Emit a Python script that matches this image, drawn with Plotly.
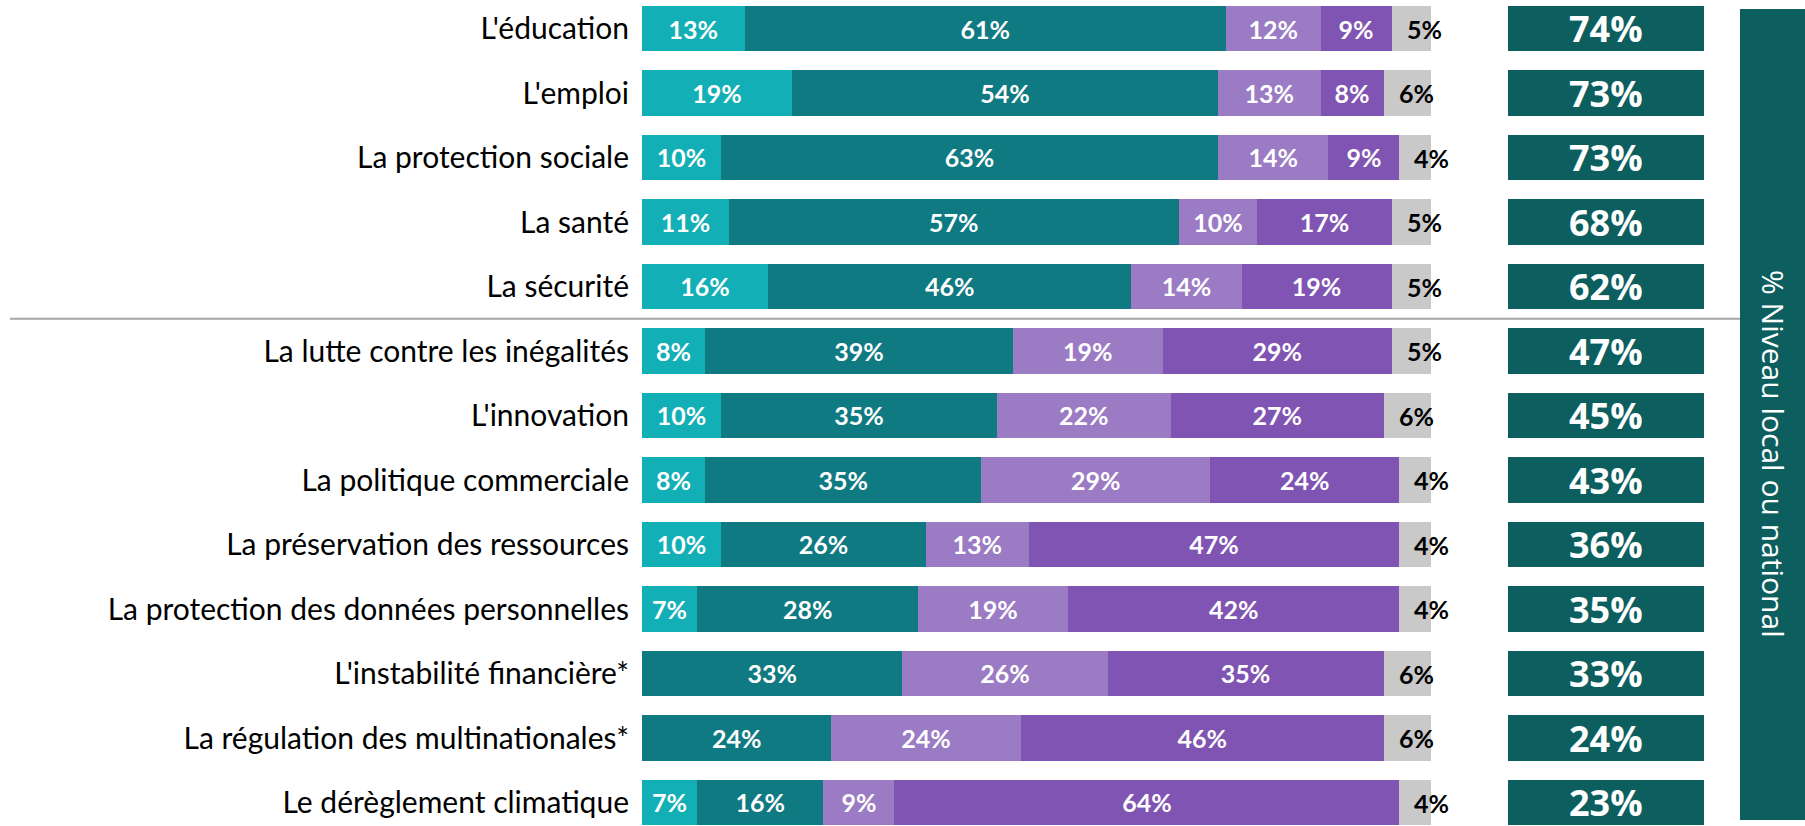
import plotly.graph_objects as go

# themes, top to bottom
themes = ["L'éducation", "L'emploi", "La protection sociale", "La santé", "La sécurité",
          "La lutte contre les inégalités", "L'innovation", "La politique commerciale",
          "La préservation des ressources", "La protection des données personnelles",
          "L'instabilité financière*", "La régulation des multinationales*",
          "Le dérèglement climatique"]

# share of answers per level (%)
local = [13, 19, 10, 11, 16, 8, 10, 8, 10, 7, 0, 0, 7]
national = [61, 54, 63, 57, 46, 39, 35, 35, 26, 28, 33, 24, 16]
europeen = [12, 13, 14, 10, 14, 19, 22, 29, 13, 19, 26, 24, 9]
mondial = [9, 8, 9, 17, 19, 29, 27, 24, 47, 42, 35, 46, 64]
nsp = [5, 6, 4, 5, 5, 5, 6, 4, 4, 4, 6, 6, 4]

# % niveau local ou national
total = [74, 73, 73, 68, 62, 47, 45, 43, 36, 35, 33, 24, 23]

series = [
    ("Local", local, "#13afb6"),
    ("National", national, "#107a82"),
    ("Européen", europeen, "#9a7bc4"),
    ("Mondial", mondial, "#7f54b3"),
    ("NSP", nsp, "#c9c9c9"),
]

W, H = 1805, 826
fig = go.Figure()

for name, vals, col in series:
    txt = ["" if (v == 0 or name == "NSP") else f"{v}%" for v in vals]
    fig.add_trace(go.Bar(
        y=themes, x=vals, name=name, orientation="h",
        marker=dict(color=col, line=dict(width=0)),
        text=txt, textposition="inside", insidetextanchor="middle", textangle=0,
        textfont=dict(family="Lato", size=25, color="white", weight="bold"),
        hoverinfo="skip",
    ))

# right column boxes
fig.add_trace(go.Bar(
    y=themes, x=[1] * len(themes), orientation="h", xaxis="x2", yaxis="y",
    marker=dict(color="#0d5e5e", line=dict(width=0)), hoverinfo="skip",
))
for th, v in zip(themes, total):
    fig.add_annotation(x=0.5, y=th, xref="x2", yref="y", text=f"{v}%", showarrow=False,
                       font=dict(family="Open Sans", size=36, color="white", weight="bold"))

# black labels for the grey (NSP) part, starting a bit inside the grey block
left = [a + b + c + d for a, b, c, d in zip(local, national, europeen, mondial)]
for th, l, v in zip(themes, left, nsp):
    fig.add_annotation(x=l, y=th, xref="x", yref="y", text=f"{v}%",
                       showarrow=False, xanchor="left", xshift=13,
                       font=dict(family="Lato", size=25, color="black", weight="bold"))

# separator line between the two groups
fig.add_shape(type="line", xref="paper", yref="y", x0=10 / W, x1=1740 / W, y0=4.5, y1=4.5,
              line=dict(color="#a6a6a6", width=2))

# vertical title box
fig.add_shape(type="rect", xref="paper", yref="paper", x0=1740 / W, x1=1.0,
              y0=1 - 820 / H, y1=1 - 9 / H, fillcolor="#0d5e5e", line=dict(width=0))
fig.add_annotation(xref="paper", yref="paper", x=1773 / W, y=1 - 454 / H,
                   xanchor="center", yanchor="middle",
                   text="% Niveau local ou national", textangle=90, showarrow=False,
                   font=dict(family="Open Sans", size=30, color="white"))

fig.update_layout(
    width=W, height=H, barmode="stack", bargap=0.3, showlegend=False,
    margin=dict(l=0, r=0, t=0, b=0),
    paper_bgcolor="white", plot_bgcolor="white",
    uniformtext=dict(minsize=25, mode="show"),
    xaxis=dict(domain=[642 / W, 1431 / W], range=[0, 100], visible=False, fixedrange=True),
    xaxis2=dict(domain=[1508 / W, 1704 / W], range=[0, 1], visible=False, anchor="y"),
    yaxis=dict(categoryorder="array", categoryarray=themes,
               range=[(H - 28.5) / 64.5, -28.5 / 64.5],
               showgrid=False, zeroline=False, showline=False, ticks="",
               ticklabelstandoff=12,
               tickfont=dict(family="Lato", size=30, color="black")),
)

fig.write_html("out.html", config={"displayModeBar": False},
               post_script="document.body.style.margin='0';document.body.style.overflow='hidden';")
